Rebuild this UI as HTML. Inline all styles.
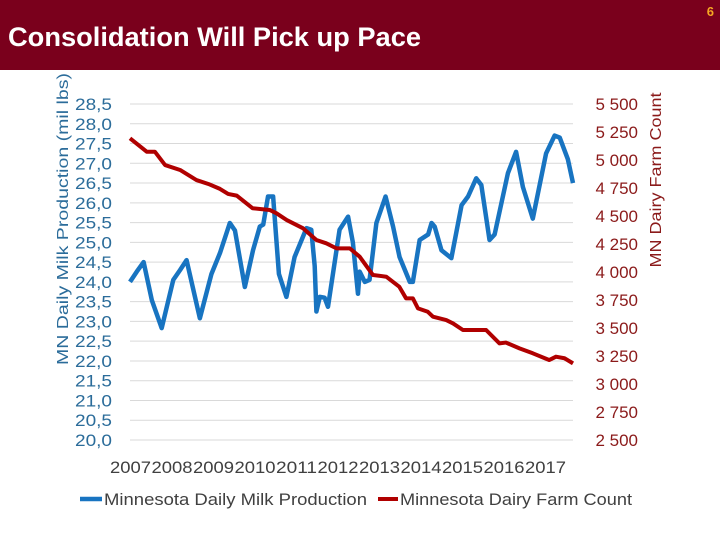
<!DOCTYPE html>
<html><head><meta charset="utf-8"><style>
body{margin:0;width:720px;height:540px;background:#fff;overflow:hidden;font-family:"Liberation Sans",sans-serif;position:relative}
#hdr{position:absolute;left:0;top:0;width:720px;height:70px;background:#7a001c}
#pg{position:absolute;right:6px;top:4px;color:#f5a623;font-size:13px;font-weight:bold}
</style></head><body>
<div id="hdr"></div>
<div id="pg">6</div>
<svg id="chart" width="720" height="540" style="position:absolute;left:0;top:0">
<text x="8" y="46" font-size="27" font-weight="bold" fill="#fff" textLength="413" lengthAdjust="spacingAndGlyphs">Consolidation Will Pick up Pace</text>
</svg>
<script>
const blueMonths=[0,2,4,6.4,9.3,12.7,14.7,16.6,20.5,23.9,26.4,29.3,30.8,33.7,36.1,38.1,39.1,40.5,42,43.7,45.9,48.3,51.8,53.2,54.2,54.7,55.7,57.1,58.1,61.5,64,65.4,66.9,67.4,68.9,70.3,72.3,75,77.2,79.1,82.1,83,85,87.5,88.5,89.4,91.4,94.3,97.3,99.2,101.6,103.1,105.5,107,110.9,113.3,115.3,118.2,122.1,124.6,126.1,128.5,130];
const blueValues=[24.0,24.26,24.5,23.54,22.83,24.05,24.3,24.55,23.08,24.2,24.73,25.49,25.3,23.87,24.8,25.4,25.45,26.16,26.16,24.2,23.62,24.63,25.36,25.32,24.4,23.25,23.62,23.6,23.37,25.32,25.65,25.0,23.7,24.26,24.0,24.05,25.49,26.16,25.4,24.63,24.0,24.0,25.06,25.2,25.49,25.4,24.8,24.6,25.94,26.16,26.62,26.45,25.06,25.2,26.75,27.29,26.4,25.6,27.25,27.7,27.65,27.1,26.5];
const redMonths=[0,4.9,7.3,10.3,14.7,19.5,23,26.4,28.8,31.3,36,41,43,46,50.8,54.7,57.6,60.6,64.5,67.4,71.3,75.2,79,81,83,84.5,87.4,88.9,92.8,94.8,97.7,101.6,104.5,108.4,110.3,114.3,118.2,123,125,127.5,130];
const redValues=[5194,5074,5074,4955,4911,4821,4786,4742,4697,4682,4569,4554,4524,4464,4390,4286,4256,4211,4211,4137,3973,3958,3869,3765,3765,3675,3645,3601,3571,3541,3482,3482,3482,3363,3370,3318,3274,3214,3244,3230,3184];
const leftTicks=["20,0","20,5","21,0","21,5","22,0","22,5","23,0","23,5","24,0","24,5","25,0","25,5","26,0","26,5","27,0","27,5","28,0","28,5"];
const rightTicks=["2 500","2 750","3 000","3 250","3 500","3 750","4 000","4 250","4 500","4 750","5 000","5 250","5 500"];
const yearLabels=["2007","2008","2009","2010","2011","2012","2013","2014","2015","2016","2017"];
const NS="http://www.w3.org/2000/svg";
const svg=document.getElementById('chart');
const X0=130,X1=573,Y0=440,Y1=104,MAXM=130;
const xS=m=>X0+(X1-X0)*m/MAXM;
const yL=v=>Y0-(v-20)/8.5*(Y0-Y1);
const yR=v=>Y0-(v-2500)/3000*(Y0-Y1);
function mk(t,a){const e=document.createElementNS(NS,t);for(const k in a)e.setAttribute(k,a[k]);svg.appendChild(e);return e;}
leftTicks.forEach((t,i)=>{
  const y=Y0-i*(Y0-Y1)/17;
  const g=mk('line',{x1:X0,x2:X1,y1:y,y2:y,stroke:'#d9d9d9','stroke-width':1});
  
  
  const tx=mk('text',{x:75,y:y+6,'font-size':17,fill:'#2b6c9a',textLength:37,lengthAdjust:'spacingAndGlyphs'});
  tx.textContent=t;
  
  
});
rightTicks.forEach((t,i)=>{
  const y=Y0-i*(Y0-Y1)/12;
  const tx=mk('text',{x:638,y:y+6,'text-anchor':'end','font-size':17,fill:'#8b1a1a'});
  tx.textContent=t;
  
  
});
yearLabels.forEach((t,i)=>{
  const tx=mk('text',{x:110+i*41.5,y:473,'font-size':17,fill:'#404040',textLength:41,lengthAdjust:'spacingAndGlyphs'});
  tx.textContent=t;
  
  
});
const bl=mk('polyline',{points:blueMonths.map((m,i)=>xS(m)+','+yL(blueValues[i])).join(' '),fill:'none',stroke:'#1874c1','stroke-width':4.5,'stroke-linejoin':'round'});


const rl=mk('polyline',{points:redMonths.map((m,i)=>xS(m)+','+yR(redValues[i])).join(' '),fill:'none',stroke:'#b00000','stroke-width':4,'stroke-linejoin':'round'});


const lt=mk('text',{x:0,y:0,'font-size':16,fill:'#2b6c9a','text-anchor':'middle',textLength:292,lengthAdjust:'spacingAndGlyphs',transform:'translate(68,219) rotate(-90)'});
lt.textContent='MN Daily Milk Production (mil lbs)';


const rt=mk('text',{x:0,y:0,'font-size':16,fill:'#8b1a1a','text-anchor':'middle',textLength:175,lengthAdjust:'spacingAndGlyphs',transform:'translate(661,180) rotate(-90)'});
rt.textContent='MN Dairy Farm Count';


const l1=mk('line',{x1:80,x2:102,y1:499,y2:499,stroke:'#1874c1','stroke-width':4.5});


const t1=mk('text',{x:104,y:505,'font-size':17,fill:'#404040',textLength:263,lengthAdjust:'spacingAndGlyphs'});
t1.textContent='Minnesota Daily Milk Production';


const l2=mk('line',{x1:378,x2:398,y1:499,y2:499,stroke:'#b00000','stroke-width':4});


const t2=mk('text',{x:400,y:505,'font-size':17,fill:'#404040',textLength:232,lengthAdjust:'spacingAndGlyphs'});
t2.textContent='Minnesota Dairy Farm Count';


</script>
</body></html>
